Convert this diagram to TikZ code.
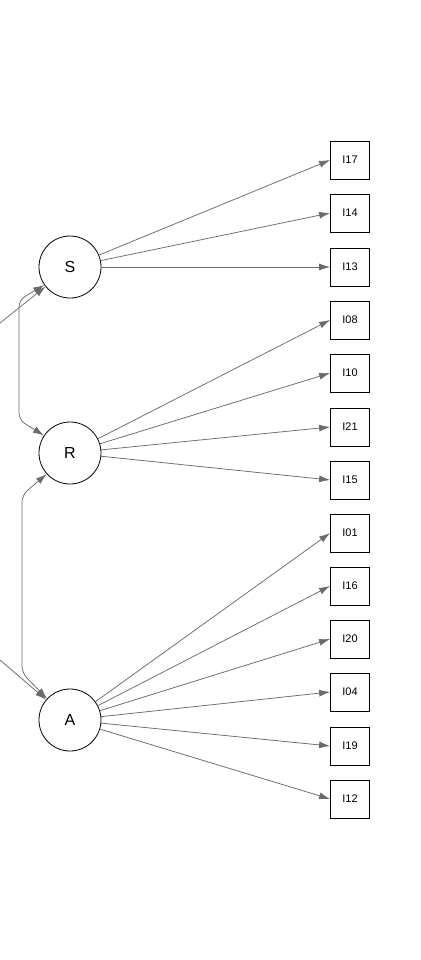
\documentclass[tikz,border=0pt]{standalone}
\usepackage{fontspec}
\setmainfont{Liberation Sans}
\usetikzlibrary{arrows.meta}
\begin{document}
\begin{tikzpicture}[x=1pt,y=-1pt,
  latent/.style={circle,draw=black,line width=0.8pt,minimum size=62pt,inner sep=0pt,font=\fontsize{16}{16}\selectfont},
  item/.style={rectangle,draw=black,line width=0.8pt,minimum width=39pt,minimum height=38pt,inner sep=0pt,font=\fontsize{11}{11}\selectfont},
  path/.style={draw=black!58,line width=0.75pt,-{Latex[length=11pt,width=7pt]}},
  cov/.style={draw=black!58,line width=0.75pt,{Latex[length=11pt,width=7pt]}-{Latex[length=11pt,width=7pt]},rounded corners=7pt}]
\fill[white] (0,0) rectangle (420,960);
\useasboundingbox (0,0) rectangle (420,960);
\node[latent] (S) at (70,267) {S};
\node[latent] (R) at (70,453) {R};
\node[latent] (A) at (70,720) {A};
\foreach \n/\y in {I17/160,I14/213,I13/267,I08/320,I10/373,I21/427,I15/480,I01/533,I16/586,I20/639,I04/692,I19/746,I12/799}
  \node[item] (\n) at (350,\y) {\n};
\foreach \n in {I17,I14,I13} \draw[path] (S) -- (\n.west);
\foreach \n in {I08,I10,I21,I15} \draw[path] (R) -- (\n.west);
\foreach \n in {I01,I16,I20,I04,I19,I12} \draw[path] (A) -- (\n.west);
\coordinate (cS) at (0,323);
\coordinate (cA) at (0,660);
\draw[path] (cS) -- (S);
\draw[path] (cA) -- (A);
\draw[cov] (S.215) -- (19,300) -- (19,420) -- (R.146);
\draw[cov] (R.222) -- (22,495) -- (22,673) -- (A.137);
\end{tikzpicture}
\end{document}
